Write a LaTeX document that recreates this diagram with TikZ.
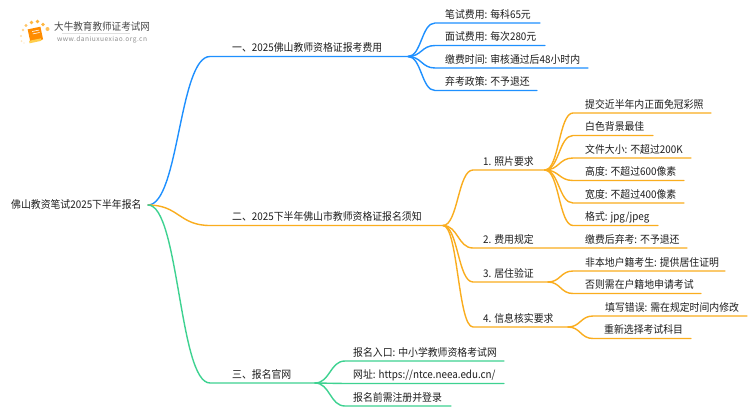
\documentclass[tikz,border=0pt]{standalone}
\usepackage{fontspec}
\setmainfont[FakeStretch=0.93]{Noto Sans CJK SC}
\newfontfamily\logourl[LetterSpace=7]{Noto Sans CJK SC}
\usetikzlibrary{calc}
\definecolor{cblue}{RGB}{30,144,255}
\definecolor{corange}{RGB}{250,173,30}
\definecolor{cgreen}{RGB}{62,210,145}
\definecolor{ctext}{RGB}{30,30,30}
\tikzset{
  label/.style={anchor=base west,inner sep=0pt,text=ctext,font=\fontsize{10.6}{12}\selectfont},
  link/.style={line width=1.4pt,line cap=round},
}
% \mm{name}{parent}{colour}{start x}{end x}{y}{text x}{text}
\newcommand{\mm}[8]{%
  \coordinate (#1s) at (#4,#6);
  \coordinate (#1) at (#5,#6);
  \node[label] (#1t) at (#7,#6-4.7) {#8};
  \draw[link,#3] let \p1=(#2), \p2=(#1s) in (#2) .. controls ({0.5*\x1+0.5*\x2},\y1) and ({0.5*\x1+0.5*\x2},\y2) .. (#1s) -- (#1);
}
\begin{document}
\begin{tikzpicture}[x=1pt,y=-1pt]
\useasboundingbox (0,0) rectangle (750,410);
\fill[white] (0,0) rectangle (750,410);
% logo
\foreach \px/\py/\pr/\po in {21/36/1.1/35,23/30/1.3/45,26/25.5/1.6/60,31.5/22.5/1.8/75,37.5/21.5/1.9/80,43/24.5/1.9/75,47.5/29/2/65,21.5/41/1/25,24/43/.8/15}{
  \fill[orange!75!yellow,opacity=\po/100] (\px,\py) circle (\pr);
}
\fill[orange!90!yellow,rotate around={12:(35,35)}] (29,28) rectangle (42,41);
\fill[orange!55!yellow!70!white,rotate around={12:(35,35)}] (28,39.5) rectangle (40,42);
\draw[white,line width=.6pt,rotate around={12:(35,35)}] (33,31) -- (40,31) (33,33.5) -- (40,33.5);
\node[anchor=base west,inner sep=0pt,text=black!72,font=\fontsize{10.3}{11}\selectfont] (logot) at (54,30.5) {大牛教育教师证考试网};
\draw[black!12,line width=.6pt] (62,33.5) -- (130,33.5);
\node[anchor=base west,inner sep=0pt,text=black!45,font=\logourl\fontsize{6.6}{7}\selectfont] (logou) at (57,41.5) {www.daniuxuexiao.org.cn};
% root
\node[label] (roott) at (11,208.7) {佛山教资笔试2025下半年报名};
\coordinate (root) at (148,205);
% branch 1
\mm{a}{root}{cblue}{210}{408}{56.5}{232}{一、2025佛山教师资格证报考费用}
\mm{a1}{a}{cblue}{435}{540}{23}{445}{笔试费用: 每科65元}
\mm{a2}{a}{cblue}{435}{545}{45.5}{445}{面试费用: 每次280元}
\mm{a3}{a}{cblue}{435}{588}{68}{445}{缴费时间: 审核通过后48小时内}
\mm{a4}{a}{cblue}{435}{537}{90.5}{445}{弃考政策: 不予退还}
% branch 2
\mm{b}{root}{corange}{210}{443}{225.5}{232}{二、2025下半年佛山市教师资格证报名须知}
\mm{p}{b}{corange}{473}{545}{170}{483}{1. 照片要求}
\mm{p1}{p}{corange}{573}{711}{113}{585}{提交近半年内正面免冠彩照}
\mm{p2}{p}{corange}{573}{653}{135.5}{585}{白色背景最佳}
\mm{p3}{p}{corange}{573}{691}{158}{585}{文件大小: 不超过200K}
\mm{p4}{p}{corange}{573}{684}{180.5}{585}{高度: 不超过600像素}
\mm{p5}{p}{corange}{573}{684}{203}{585}{宽度: 不超过400像素}
\mm{p6}{p}{corange}{573}{658}{225.5}{585}{格式: jpg/jpeg}
\mm{q}{b}{corange}{473}{687}{248}{483}{2. 费用规定}
\node[label] (q1t) at (585,243.3) {缴费后弃考: 不予退还};
\mm{r}{b}{corange}{473}{548}{282}{483}{3. 居住验证}
\mm{r1}{r}{corange}{573}{725}{271}{585}{非本地户籍考生: 提供居住证明}
\mm{r2}{r}{corange}{573}{701}{293.5}{585}{否则需在户籍地申请考试}
\mm{s}{b}{corange}{473}{568}{327}{483}{4. 信息核实要求}
\mm{s1}{s}{corange}{593}{747}{316}{605}{填写错误: 需在规定时间内修改}
\mm{s2}{s}{corange}{593}{691}{338.5}{604}{重新选择考试科目}
% branch 3
\mm{c}{root}{cgreen}{210}{315}{383}{232}{三、报名官网}
\mm{c1}{c}{cgreen}{345}{504}{361}{353}{报名入口: 中小学教师资格考试网}
\mm{c2}{c}{cgreen}{345}{504}{383.5}{353}{网址: https://ntce.neea.edu.cn/}
\mm{c3}{c}{cgreen}{345}{451}{406}{353}{报名前需注册并登录}
\end{tikzpicture}
\end{document}
